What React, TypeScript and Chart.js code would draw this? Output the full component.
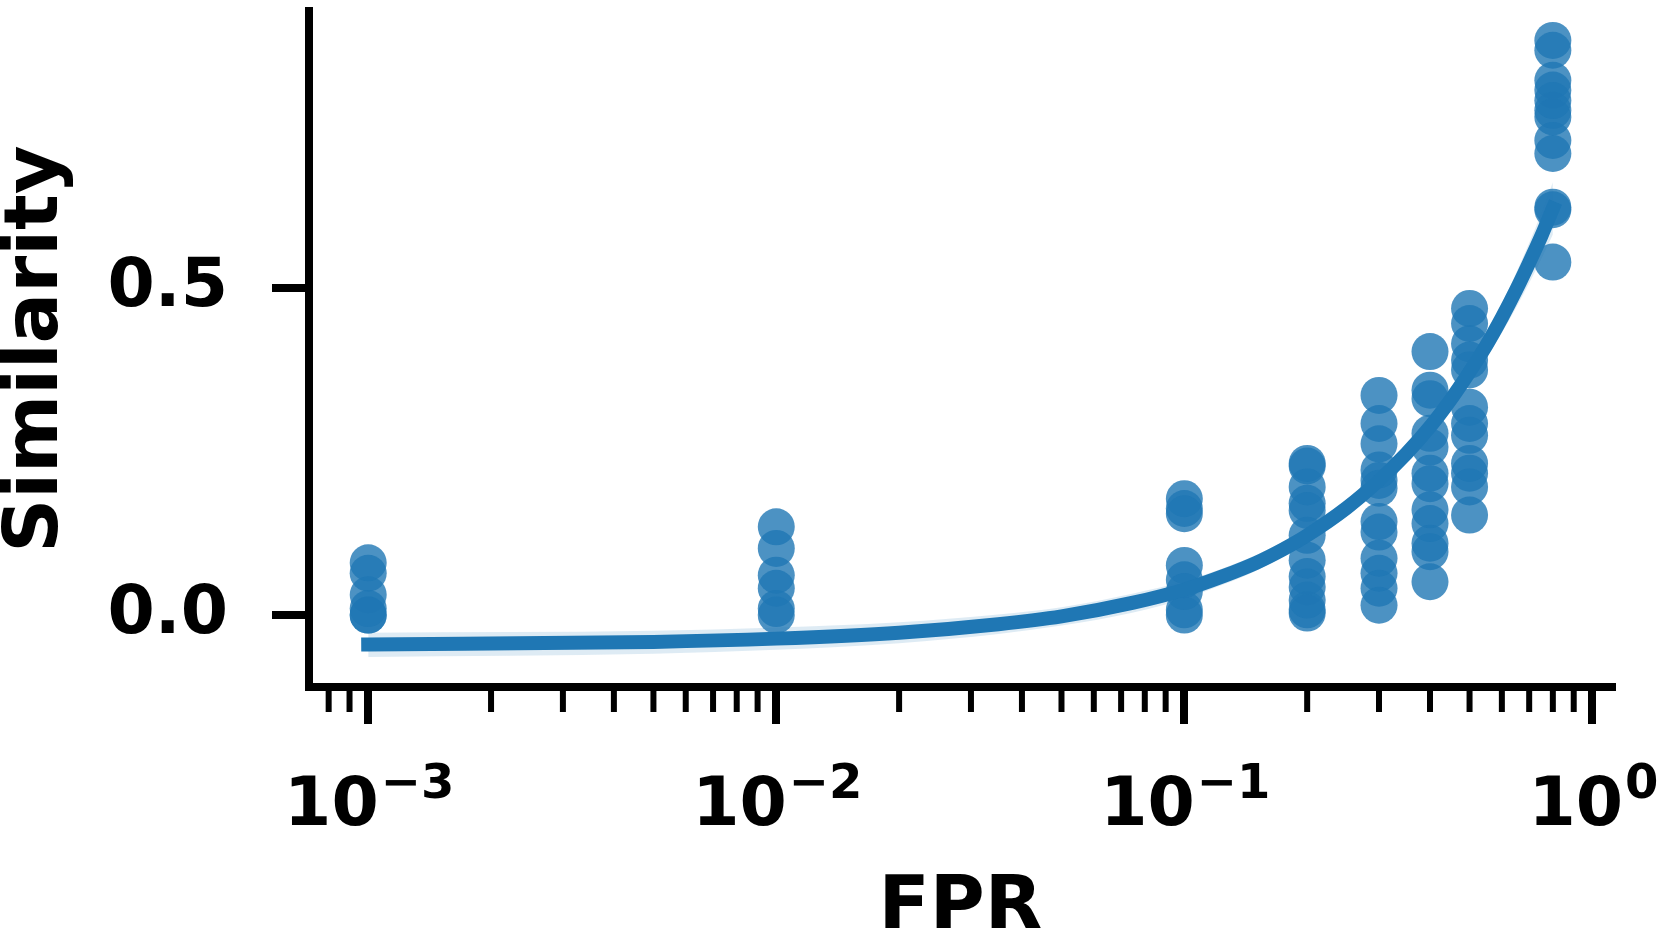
import React, { useEffect, useRef } from 'react';
import { Chart, registerables } from 'chart.js';

Chart.register(...registerables);

// ---- Data ----
const FPR_LEVELS = [0.001, 0.01, 0.1, 0.2, 0.3, 0.4, 0.5, 0.8];

const SIM_FPR_0001 = [0.080, 0.064, 0.031, 0.010, 0.0, 0.0];
const SIM_FPR_001 = [0.135, 0.102, 0.061, 0.041, 0.010, 0.0];
const SIM_FPR_01 = [0.178, 0.163, 0.155, 0.076, 0.054, 0.036, 0.008, 0.0];
const SIM_FPR_02 = [0.232, 0.228, 0.196, 0.171, 0.160, 0.122, 0.084, 0.059, 0.043, 0.023, 0.008, 0.003];
const SIM_FPR_03 = [0.336, 0.293, 0.262, 0.222, 0.206, 0.194, 0.143, 0.127, 0.087, 0.064, 0.041, 0.015];
const SIM_FPR_04 = [0.403, 0.344, 0.331, 0.278, 0.257, 0.217, 0.201, 0.161, 0.140, 0.110, 0.097, 0.051];
const SIM_FPR_05 = [0.469, 0.446, 0.415, 0.390, 0.375, 0.318, 0.293, 0.275, 0.232, 0.217, 0.196, 0.153];
const SIM_FPR_08 = [0.879, 0.864, 0.818, 0.803, 0.787, 0.772, 0.762, 0.726, 0.706, 0.624, 0.620, 0.540];

const SIM_COLUMNS = [
  SIM_FPR_0001, SIM_FPR_001, SIM_FPR_01, SIM_FPR_02,
  SIM_FPR_03, SIM_FPR_04, SIM_FPR_05, SIM_FPR_08,
];

// Regression line and its confidence band
const FIT_X = [0.001, 0.005, 0.01, 0.02, 0.035, 0.05, 0.075, 0.1, 0.125, 0.15, 0.175, 0.2, 0.25, 0.3, 0.35, 0.4, 0.45, 0.5, 0.55, 0.6, 0.65, 0.7, 0.75, 0.8];
const FIT_Y = [-0.045, -0.041, -0.036, -0.027, -0.014, -0.002, 0.019, 0.039, 0.060, 0.080, 0.101, 0.122, 0.164, 0.206, 0.247, 0.288, 0.330, 0.372, 0.413, 0.455, 0.497, 0.539, 0.580, 0.622];
const FIT_LO = [-0.064, -0.059, -0.053, -0.043, -0.029, -0.016, 0.004, 0.025, 0.047, 0.068, 0.090, 0.111, 0.154, 0.196, 0.236, 0.276, 0.316, 0.355, 0.394, 0.432, 0.470, 0.508, 0.545, 0.582];
const FIT_HI = [-0.027, -0.024, -0.019, -0.011, 0.001, 0.012, 0.033, 0.052, 0.072, 0.092, 0.112, 0.133, 0.174, 0.216, 0.258, 0.300, 0.344, 0.388, 0.432, 0.477, 0.523, 0.569, 0.615, 0.662];

// Axes
const X_MIN = 0.000716;
const X_MAX = 1.117;
const Y_MIN = -0.110;
const Y_MAX = 0.924;
const X_MAJOR_TICKS = [0.001, 0.01, 0.1, 1];
const X_TICK_BASE = '10';
const X_TICK_EXPONENTS = ['\u22123', '\u22122', '\u22121', '0'];
const X_MINOR_TICKS = [
  0.0008, 0.0009,
  0.002, 0.003, 0.004, 0.005, 0.006, 0.007, 0.008, 0.009,
  0.02, 0.03, 0.04, 0.05, 0.06, 0.07, 0.08, 0.09,
  0.2, 0.3, 0.4, 0.5, 0.6, 0.7, 0.8, 0.9,
];
const Y_TICKS = [0.0, 0.5];
const Y_TICK_LABELS = ['0.0', '0.5'];

const BLUE = '#1f77b4';
const FONT = "'DejaVu Sans', 'Liberation Sans', sans-serif";

// Minor tick marks (shorter than the major ones) and mathtext-like x tick labels
const logAxisPlugin = {
  id: 'logAxisDecor',
  afterDraw(chart: any) {
    const xs = chart.scales.x;
    const ctx = chart.ctx;
    const y0 = chart.chartArea.bottom;
    ctx.save();
    ctx.strokeStyle = '#000';
    ctx.lineWidth = 6;
    for (const v of X_MINOR_TICKS) {
      const px = xs.getPixelForValue(v);
      ctx.beginPath();
      ctx.moveTo(px, y0);
      ctx.lineTo(px, y0 + 25);
      ctx.stroke();
    }
    ctx.fillStyle = '#000';
    ctx.textAlign = 'left';
    ctx.textBaseline = 'alphabetic';
    X_MAJOR_TICKS.forEach((v, i) => {
      const px = xs.getPixelForValue(v);
      ctx.font = `bold 68px ${FONT}`;
      const w1 = ctx.measureText(X_TICK_BASE).width;
      ctx.font = `bold 48px ${FONT}`;
      const w2 = ctx.measureText(X_TICK_EXPONENTS[i]).width;
      const start = px - (w1 + w2) / 2;
      ctx.font = `bold 68px ${FONT}`;
      ctx.fillText(X_TICK_BASE, start, y0 + 138);
      ctx.font = `bold 48px ${FONT}`;
      ctx.fillText(X_TICK_EXPONENTS[i], start + w1 + 2, y0 + 111);
    });
    ctx.restore();
  },
};

export default function App() {
  const canvasRef = useRef<HTMLCanvasElement | null>(null);

  useEffect(() => {
    const canvas = canvasRef.current;
    if (!canvas) return;

    const scatterPoints: { x: number; y: number }[] = [];
    FPR_LEVELS.forEach((fpr, i) => {
      SIM_COLUMNS[i].forEach((s) => scatterPoints.push({ x: fpr, y: s }));
    });
    const fitPoints = FIT_X.map((x, i) => ({ x, y: FIT_Y[i] }));
    const loPoints = FIT_X.map((x, i) => ({ x, y: FIT_LO[i] }));
    const hiPoints = FIT_X.map((x, i) => ({ x, y: FIT_HI[i] }));

    const chart = new Chart(canvas, {
      type: 'scatter',
      data: {
        datasets: [
          {
            type: 'line',
            data: fitPoints,
            borderColor: BLUE,
            borderWidth: 14,
            borderCapStyle: 'square',
            pointRadius: 0,
            cubicInterpolationMode: 'monotone',
            fill: false,
            order: 0,
          } as any,
          {
            type: 'scatter',
            data: scatterPoints,
            backgroundColor: 'rgba(31,119,180,0.8)',
            borderWidth: 0,
            pointRadius: 18.5,
            order: 1,
          } as any,
          {
            type: 'line',
            data: loPoints,
            borderWidth: 0,
            borderColor: 'rgba(0,0,0,0)',
            backgroundColor: 'rgba(31,119,180,0.15)',
            pointRadius: 0,
            cubicInterpolationMode: 'monotone',
            fill: '+1',
            order: 2,
          } as any,
          {
            type: 'line',
            data: hiPoints,
            borderWidth: 0,
            borderColor: 'rgba(0,0,0,0)',
            pointRadius: 0,
            cubicInterpolationMode: 'monotone',
            fill: false,
            order: 3,
          } as any,
        ],
      },
      options: {
        animation: false,
        responsive: false,
        devicePixelRatio: 1,
        events: [],
        layout: { autoPadding: false, padding: { top: 11, right: 49, bottom: 0, left: 0 } },
        plugins: { legend: { display: false }, tooltip: { enabled: false } },
        scales: {
          x: {
            type: 'logarithmic',
            position: 'bottom',
            min: X_MIN,
            max: X_MAX,
            afterBuildTicks: (scale: any) => {
              scale.ticks = X_MAJOR_TICKS.map((v) => ({ value: v }));
            },
            afterFit: (scale: any) => {
              scale.height = 241;
              scale.paddingLeft = 0;
              scale.paddingRight = 0;
            },
            ticks: {
              autoSkip: false,
              maxRotation: 0,
              minRotation: 0,
              padding: 35,
              color: '#000',
              font: { family: FONT, size: 68, weight: 'bold' },
              callback: () => '',
            },
            grid: {
              display: true,
              drawOnChartArea: false,
              drawTicks: true,
              tickLength: 37,
              tickWidth: 8,
              tickColor: '#000',
              lineWidth: 8,
              color: '#000',
            },
            border: { display: true, width: 8, color: '#000' },
            title: {
              display: true,
              text: 'FPR',
              color: '#000',
              padding: 0,
              font: { family: FONT, size: 75, weight: 'bold', lineHeight: 0.48 },
            },
          },
          y: {
            type: 'linear',
            position: 'left',
            min: Y_MIN,
            max: Y_MAX,
            afterBuildTicks: (scale: any) => {
              scale.ticks = Y_TICKS.map((v) => ({ value: v }));
            },
            afterFit: (scale: any) => {
              scale.width = 309;
              scale.paddingTop = 0;
              scale.paddingBottom = 0;
            },
            ticks: {
              padding: 44,
              color: '#000',
              font: { family: FONT, size: 68, weight: 'bold' },
              callback: (value: any) => {
                const idx = Y_TICKS.findIndex((t) => Math.abs(t - Number(value)) < 1e-9);
                return idx >= 0 ? Y_TICK_LABELS[idx] : '';
              },
            },
            grid: {
              display: true,
              drawOnChartArea: false,
              drawTicks: true,
              tickLength: 37,
              tickWidth: 8,
              tickColor: '#000',
              lineWidth: 8,
              color: '#000',
            },
            border: { display: true, width: 8, color: '#000' },
            title: {
              display: true,
              text: 'Similarity',
              color: '#000',
              padding: 0,
              font: { family: FONT, size: 75, weight: 'bold', lineHeight: 0.99 },
            },
          },
        },
      } as any,
      plugins: [logAxisPlugin],
    });

    return () => {
      chart.destroy();
    };
  }, []);

  return (
    <div style={{ position: 'absolute', left: 0, top: 0, width: 1661, height: 928, background: '#fff' }}>
      <canvas ref={canvasRef} width={1661} height={928} style={{ display: 'block', width: 1661, height: 928 }} />
    </div>
  );
}
